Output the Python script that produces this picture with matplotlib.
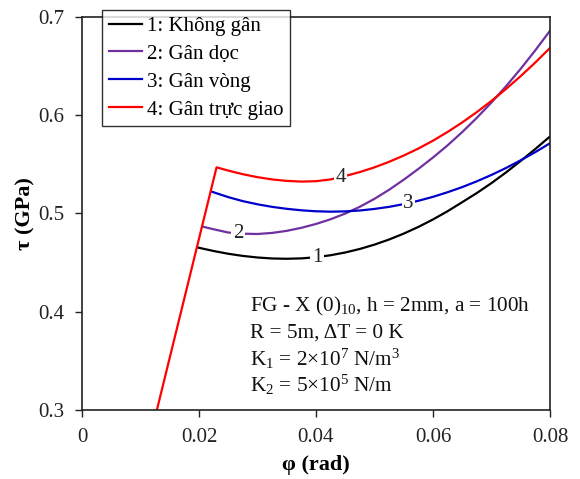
import numpy as np
import matplotlib
matplotlib.use("Agg")
import matplotlib.pyplot as plt

plt.rcParams['font.family'] = ['Liberation Serif', 'DejaVu Serif']
plt.rcParams['mathtext.fontset'] = 'custom'
plt.rcParams['mathtext.rm'] = 'Liberation Serif'
plt.rcParams['mathtext.it'] = 'Liberation Serif:italic'
plt.rcParams['mathtext.bf'] = 'Liberation Serif:bold'

# pre-buckling (common linear path)
phi_pre = [0.0128, 0.0230]
tau_pre = [0.300, 0.5468]

# common grid of post-buckling readings
grid = [0.0250, 0.0275, 0.0300, 0.0325, 0.0350, 0.0375, 0.0400, 0.0425, 0.0450,
        0.0475, 0.0500, 0.0525, 0.0550, 0.0575, 0.0600, 0.0625, 0.0650, 0.0675,
        0.0700, 0.0725, 0.0750, 0.0775, 0.0800]

# 1: Không gân
phi_1 = [0.0199, 0.0225] + grid
tau_1 = [0.4651, 0.4617, 0.4589, 0.4567, 0.4551, 0.4541, 0.4538, 0.4542, 0.4554,
         0.4574, 0.4602, 0.4638, 0.4682, 0.4734, 0.4794, 0.4862, 0.4938, 0.5022,
         0.5114, 0.5207, 0.5308, 0.5417, 0.5534, 0.5655, 0.5782]

# 2: Gân dọc
phi_2 = [0.0207, 0.0225] + grid
tau_2 = [0.4864, 0.4838, 0.4805, 0.4793, 0.4790, 0.4801, 0.4822, 0.4853, 0.4892,
         0.4940, 0.4998, 0.5067, 0.5148, 0.5240, 0.5342, 0.5452, 0.5568, 0.5692,
         0.5827, 0.5972, 0.6128, 0.6294, 0.6471, 0.6659, 0.6857]

# 3: Gân vòng
phi_3 = [0.0222] + grid
tau_3 = [0.5220, 0.5165, 0.5124, 0.5092, 0.5066, 0.5046, 0.5031, 0.5021, 0.5017,
         0.5020, 0.5029, 0.5045, 0.5066, 0.5094, 0.5128, 0.5168, 0.5215, 0.5267,
         0.5326, 0.5391, 0.5462, 0.5540, 0.5623, 0.5713]

# 4: Gân trực giao
phi_4 = [0.0230] + grid
tau_4 = [0.5468, 0.5435, 0.5398, 0.5368, 0.5345, 0.5330, 0.5323, 0.5327, 0.5345,
         0.5380, 0.5420, 0.5468, 0.5524, 0.5588, 0.5659, 0.5739, 0.5828, 0.5925,
         0.6030, 0.6144, 0.6266, 0.6396, 0.6535, 0.6682]

labels = ["1: Không gân", "2: Gân dọc", "3: Gân vòng", "4: Gân trực giao"]
curve_tags = ["1", "2", "3", "4"]
colors = ["#000000", "#7030A0", "#0000CC", "#FF0000"]
tag_x = [0.0402, 0.0267, 0.0558, 0.0442]

fig = plt.figure(figsize=(5.8, 4.79), dpi=100)
ax = fig.add_axes([82/580, 1-410/479, 468/580, 393.3/479])

series = [(phi_1, tau_1), (phi_2, tau_2), (phi_3, tau_3),
          (phi_pre + phi_4[1:], tau_pre + tau_4[1:])]
for (px, ty), c, lab in zip(series, colors, labels):
    ax.plot(px, ty, color=c, lw=1.6, label=lab, solid_joinstyle='round')

for (px, ty), c, t, xt in zip(series, colors, curve_tags, tag_x):
    yt = np.interp(xt, px, ty)
    ax.text(xt, yt, t, fontsize=15, ha='center', va='center', color='#222222',
            bbox=dict(boxstyle='square,pad=0.08', fc='white', ec='none'), zorder=5)

ax.set_xlim(0, 0.08)
ax.set_ylim(0.3, 0.7)
ax.set_xticks([0, 0.02, 0.04, 0.06, 0.08])
ax.set_xticklabels(["0", "0.02", "0.04", "0.06", "0.08"])
ax.set_yticks([0.3, 0.4, 0.5, 0.6, 0.7])
ax.set_yticklabels(["0.3", "0.4", "0.5", "0.6", "0.7"])
ax.tick_params(direction='out', length=5, width=1, labelsize=15, pad=8, colors='#222222')
for s in ax.spines.values():
    s.set_linewidth(1.2)
    s.set_color('#222222')

ax.set_xlabel("φ (rad)", fontsize=16, fontweight='bold', labelpad=6)
ax.set_ylabel("τ (GPa)", fontsize=16, fontweight='bold', labelpad=2)

leg = ax.legend(loc='upper left', bbox_to_anchor=(0.043, 1.018), borderaxespad=0,
                fontsize=15, frameon=True, fancybox=False, edgecolor='black',
                handlelength=1.6, handletextpad=0.25, labelspacing=0.4,
                borderpad=0.32)
leg.get_frame().set_linewidth(1.0)
leg.set_zorder(10)

ann = ["FG - X (0)$_{10}$, h = 2mm, a = 100h",
       "R = 5m, ΔT = 0 K",
       "K$_1$ = 2×10$^7$ N/m$^3$",
       "K$_2$ = 5×10$^5$ N/m"]
ann_y = [0.262, 0.196, 0.130, 0.064]
for t, yy in zip(ann, ann_y):
    ax.text(0.359, yy, t, transform=ax.transAxes, fontsize=15.3, ha='left', va='center',
            color='#111111')

fig.savefig("out.png", dpi=100)
